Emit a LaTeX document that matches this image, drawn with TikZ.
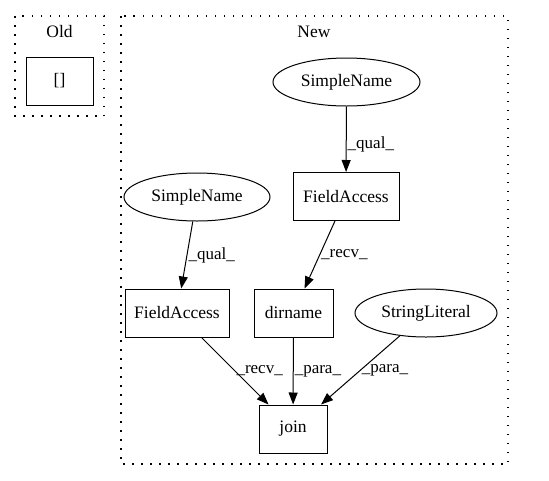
\documentclass[tikz,border=0pt]{standalone}
\usepackage{fontspec}
\setmainfont{Liberation Serif}
\usetikzlibrary{shapes.geometric,arrows.meta}
\begin{document}
\begin{tikzpicture}[x=1pt,y=-1pt,font=\fontsize{17.5}{21}\selectfont,
  box/.style={draw,line width=1pt,rectangle,minimum height=48pt,inner sep=0pt},
  oval/.style={draw,line width=1pt,ellipse,minimum height=48pt,inner sep=0pt},
  lbl/.style={font=\fontsize{17}{20}\selectfont,anchor=west,inner sep=1pt},
  edge/.style={line width=1pt,-{Triangle[length=12pt,width=9pt]}},
  cluster/.style={line width=1.2pt,dash pattern=on 1.5pt off 7.5pt}]
\useasboundingbox (0,0) rectangle (549,480);
% clusters
\draw[cluster] (15,16) rectangle (104,116);
\draw[cluster] (121,16) rectangle (508,464);
\node (oldlbl) at (59.5,32) {Old};
\node (newlbl) at (314,32) {New};
\node[box,minimum width=67pt] (old) at (59.5,81) {[]};
% new graph
\node[oval,minimum width=147pt] (snTop) at (346.5,82) {SimpleName};
\node[box,minimum width=106pt] (faTop) at (346,196.5) {FieldAccess};
\node[oval,minimum width=146pt] (snLeft) at (197,197) {SimpleName};
\node[box,minimum width=104pt] (faLeft) at (177,313) {FieldAccess};
\node[box,minimum width=79pt] (dirname) at (293.5,313) {dirname};
\node[oval,minimum width=142pt] (strlit) at (426,313) {StringLiteral};
\node[box,minimum width=68pt] (join) at (293,429) {join};
\draw[edge] (snTop) -- node[lbl,pos=.58] {\_qual\_} (faTop);
\draw[edge] (snLeft) -- node[lbl,pos=.5] {\_qual\_} (faLeft);
\draw[edge] (faTop) -- node[lbl,pos=.5] {\_recv\_} (dirname);
\draw[edge] (faLeft) -- node[lbl,pos=.5] {\_recv\_} (join);
\draw[edge] (dirname) -- node[lbl,pos=.5] {\_para\_} (join);
\draw[edge] (strlit) -- node[lbl,pos=.5] {\_para\_} (join);
\end{tikzpicture}
\end{document}
